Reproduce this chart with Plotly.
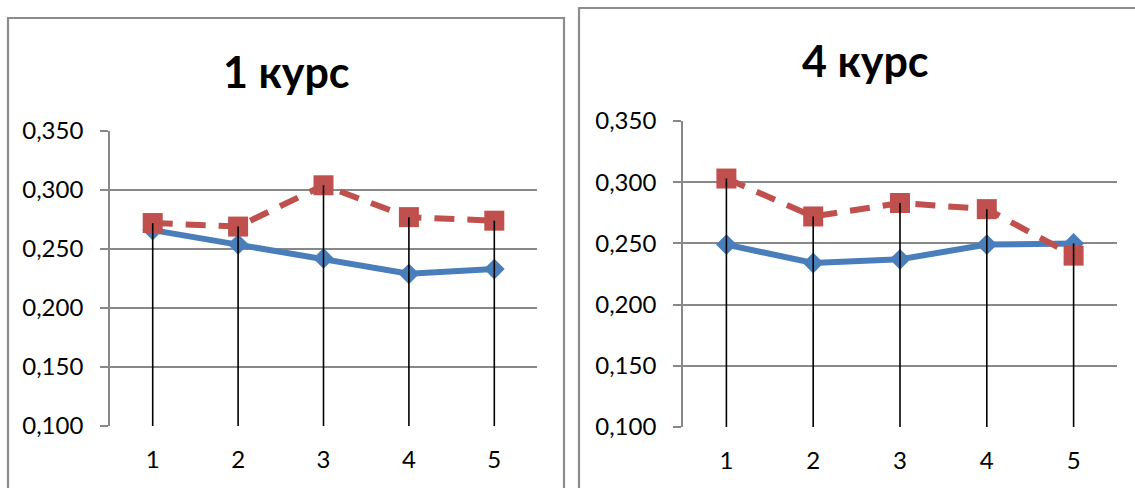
import plotly.graph_objects as go

# Categories and series values
categories = [1, 2, 3, 4, 5]
course1_blue = [0.266, 0.254, 0.242, 0.229, 0.233]
course1_red = [0.272, 0.269, 0.304, 0.277, 0.274]
course4_blue = [0.249, 0.234, 0.237, 0.249, 0.250]
course4_red = [0.303, 0.272, 0.283, 0.278, 0.240]
titles = ["1 курс", "4 курс"]
y_ticks = [0.100, 0.150, 0.200, 0.250, 0.300, 0.350]

W, H = 1135, 488
BLUE = "#4A7EBB"
RED = "#C0504D"
GRID = "#888888"
FONT = "Lato, Calibri, sans-serif"


def px_x(p):
    return p / W


def px_y(p):
    return 1 - p / H


fig = go.Figure()

panels = [
    # (blue, red, axis suffix, x domain px, y domain px)
    (course1_blue, course1_red, "", (110, 537), (131, 426)),
    (course4_blue, course4_red, "2", (683, 1117), (121, 427)),
]

for blue, red, ax, (x0, x1), (ytop, ybot) in panels:
    xa = "x" + ax
    ya = "y" + ax
    fig.add_trace(go.Scatter(
        x=categories, y=blue, xaxis=xa, yaxis=ya, mode="lines+markers",
        line=dict(color=BLUE, width=6),
        marker=dict(symbol="diamond", size=16, color=BLUE),
        showlegend=False, hoverinfo="skip", cliponaxis=False,
    ))
    fig.add_trace(go.Scatter(
        x=categories, y=red, xaxis=xa, yaxis=ya, mode="lines+markers",
        line=dict(color=RED, width=6, dash="20px,13px"),
        marker=dict(symbol="square", size=20, color=RED),
        showlegend=False, hoverinfo="skip", cliponaxis=False,
    ))
    # drop lines from the highest point of each category to the axis floor
    dx, dy = [], []
    for c, b, r in zip(categories, blue, red):
        dx += [c, c, None]
        dy += [max(b, r), y_ticks[0], None]
    fig.add_trace(go.Scatter(
        x=dx, y=dy, xaxis=xa, yaxis=ya, mode="lines",
        line=dict(color="black", width=1.6),
        showlegend=False, hoverinfo="skip",
    ))

    xkey = "xaxis" + ax
    ykey = "yaxis" + ax
    fig.layout[xkey] = dict(
        domain=[px_x(x0), px_x(x1)], anchor=ya,
        range=[0.5, 5.5], tickmode="array", tickvals=categories,
        ticktext=[str(c) for c in categories],
        showgrid=False, zeroline=False, showline=False, ticks="",
        tickfont=dict(family=FONT, size=24, color="black"),
        ticklabelstandoff=17, fixedrange=True, automargin=False,
    )
    fig.layout[ykey] = dict(
        domain=[px_y(ybot), px_y(ytop)], anchor=xa,
        range=[0.100, 0.350], tickmode="array", tickvals=y_ticks,
        tickformat=".3f", showgrid=True, gridcolor=GRID, gridwidth=1.6,
        zeroline=False, showline=True, linecolor=GRID, linewidth=1.6,
        ticks="outside", ticklen=8, tickcolor=GRID, tickwidth=1.6,
        tickfont=dict(family=FONT, size=24, color="black"),
        ticklabelstandoff=12, fixedrange=True, automargin=False,
    )

# chart titles
title_pos = [(286, 72), (865, 60)]
for text, (cx, cy) in zip(titles, title_pos):
    fig.add_annotation(
        x=px_x(cx), y=px_y(cy), xref="paper", yref="paper",
        text="<b>" + text + "</b>", showarrow=False,
        xanchor="center", yanchor="middle",
        font=dict(family=FONT, size=43, color="black"),
    )

# chart frames
frames = [(8, 18, 564, 495), (579, 8, 1140, 495)]
for fx0, fy0, fx1, fy1 in frames:
    fig.add_shape(
        type="rect", xref="paper", yref="paper",
        x0=px_x(fx0), x1=px_x(fx1), y0=px_y(fy1), y1=px_y(fy0),
        line=dict(color="#8C8C8C", width=2.2), layer="below",
    )

fig.update_layout(
    width=W, height=H,
    margin=dict(l=0, r=0, t=0, b=0, pad=0, autoexpand=False),
    paper_bgcolor="white", plot_bgcolor="white",
    separators=", ", showlegend=False,
)

fig.write_html("out.html", config={"displayModeBar": False})
